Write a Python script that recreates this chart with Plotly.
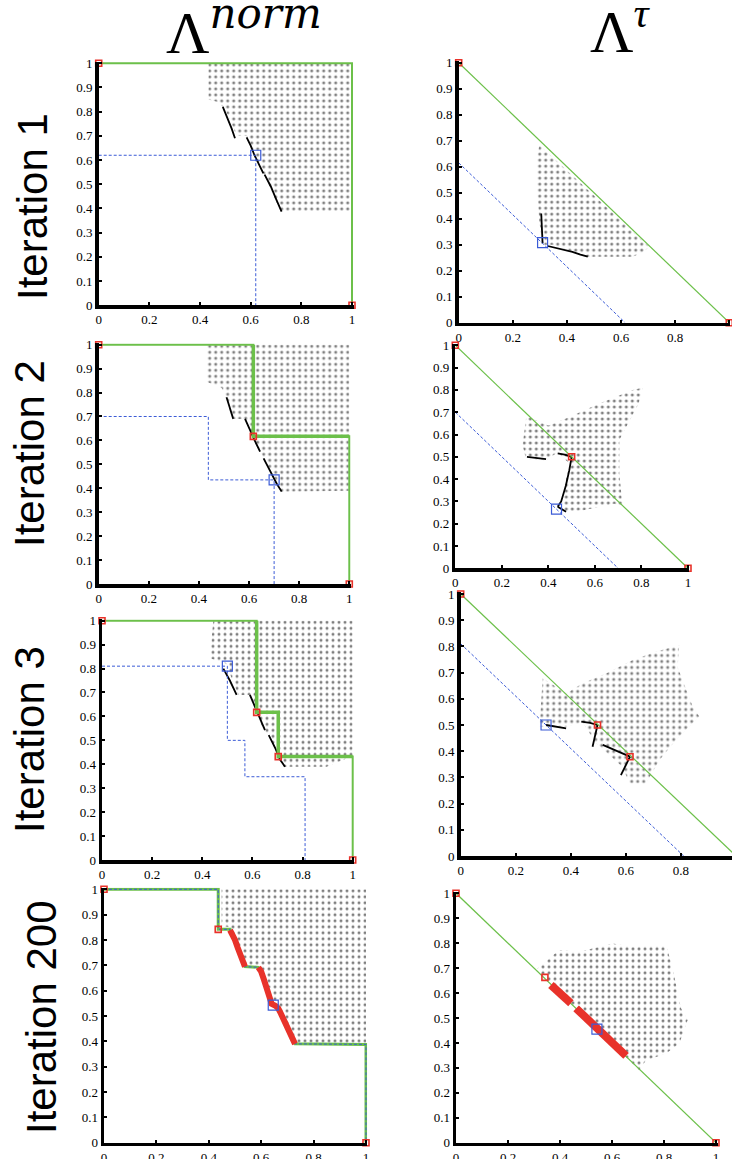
import plotly.graph_objects as go

W, H = 732, 1159

# ---------------- tick labels / texts ----------------
X_TICKS = [0, 0.2, 0.4, 0.6, 0.8, 1]
X_TICKTEXT = ["0", "0.2", "0.4", "0.6", "0.8", "1"]
Y_TICKS = [0, 0.1, 0.2, 0.3, 0.4, 0.5, 0.6, 0.7, 0.8, 0.9, 1]
Y_TICKTEXT = ["0", "0.1", "0.2", "0.3", "0.4", "0.5", "0.6", "0.7", "0.8", "0.9", "1"]
ROW_LABELS = ["Iteration 1", "Iteration 2", "Iteration 3", "Iteration 200"]
COL_TITLES = ["Λ<sup><i><span style='font-family:DejaVu Serif'>norm</span></i></sup>",
              "Λ<sup><i>τ</i></sup>"]

# ---------------- Panel 1: Iteration 1, Λ^norm ----------------
p1_front_x = [0, 1, 1]
p1_front_y = [1, 1, 0]
p1_ref_x = [0, 1]
p1_ref_y = [1, 0]
p1_dash_x = [0, 0.62, 0.62]
p1_dash_y = [0.62, 0.62, 0]
p1_sel_x, p1_sel_y = [0.62], [0.62]
p1_cloud_x = [0.433, 1, 1, 0.72, 0.69, 0.66, 0.64, 0.624, 0.60, 0.584, 0.545, 0.52, 0.50, 0.47, 0.433]
p1_cloud_y = [1, 1, 0.39, 0.39, 0.45, 0.53, 0.56, 0.60, 0.66, 0.70, 0.70, 0.76, 0.81, 0.84, 0.85]
p1_curves = [
    ([0.49, 0.51, 0.525, 0.538], [0.82, 0.77, 0.73, 0.69]),
    ([0.584, 0.60, 0.615, 0.63, 0.65], [0.694, 0.66, 0.62, 0.585, 0.545]),
    ([0.655, 0.68, 0.70, 0.722], [0.54, 0.49, 0.44, 0.387]),
]

# ---------------- Panel 2: Iteration 1, Λ^τ ----------------
p2_front_x = [0, 1]
p2_front_y = [1, 0]
p2_ref_x = [0, 1]
p2_ref_y = [1, 0]
p2_dash_x = [0, 0.615]
p2_dash_y = [0.615, 0]
p2_sel_x, p2_sel_y = [0.31], [0.308]
p2_cloud_x = [0.298, 0.704, 0.68, 0.643, 0.477, 0.40, 0.347, 0.31, 0.298, 0.286, 0.29]
p2_cloud_y = [0.683, 0.292, 0.27, 0.254, 0.254, 0.28, 0.30, 0.30, 0.39, 0.56, 0.64]
p2_curves = [
    ([0.305, 0.31], [0.42, 0.305]),
    ([0.329, 0.37, 0.42, 0.45, 0.477], [0.295, 0.285, 0.272, 0.262, 0.254]),
]

# ---------------- Panel 3: Iteration 2, Λ^norm ----------------
p3_front_x = [0, 0.617, 0.617, 1, 1]
p3_front_y = [1, 1, 0.617, 0.617, 0]
p3_new_x = [0.617, 0.617, 1]
p3_new_y = [1, 0.617, 0.617]
p3_ref_x = [0, 0.617, 1]
p3_ref_y = [1, 0.617, 0]
p3_dash_x = [0, 0.4375, 0.4375, 0.70, 0.70]
p3_dash_y = [0.70, 0.70, 0.435, 0.435, 0]
p3_sel_x, p3_sel_y = [0.70], [0.435]
p3_cloud_x = [0.43, 1, 1, 0.73, 0.70, 0.664, 0.644, 0.62, 0.60, 0.584, 0.54, 0.52, 0.49, 0.43]
p3_cloud_y = [1, 1, 0.39, 0.386, 0.45, 0.518, 0.553, 0.61, 0.66, 0.69, 0.69, 0.76, 0.82, 0.845]
p3_curves = [
    ([0.51, 0.524, 0.537], [0.78, 0.73, 0.69]),
    ([0.584, 0.60, 0.62, 0.644], [0.69, 0.65, 0.605, 0.553]),
    ([0.658, 0.69, 0.71, 0.73], [0.525, 0.46, 0.42, 0.386]),
]

# ---------------- Panel 4: Iteration 2, Λ^τ ----------------
p4_front_x = [0, 1]
p4_front_y = [1, 0]
p4_ref_x = [0, 0.5, 1]
p4_ref_y = [1, 0.5, 0]
p4_dash_x = [0, 0.70]
p4_dash_y = [0.70, 0]
p4_sel_x, p4_sel_y = [0.435], [0.265]
p4_cloud_x = [0.289, 0.304, 0.318, 0.40, 0.476, 0.619, 0.762, 0.805, 0.788, 0.705, 0.705, 0.719,
              0.683, 0.55, 0.476, 0.454, 0.476, 0.49, 0.44, 0.39, 0.304]
p4_cloud_y = [0.552, 0.672, 0.676, 0.64, 0.672, 0.739, 0.799, 0.81, 0.739, 0.575, 0.425, 0.276,
              0.29, 0.26, 0.254, 0.254, 0.40, 0.47, 0.52, 0.485, 0.49]
p4_curves = [
    ([0.308, 0.35, 0.39], [0.50, 0.495, 0.49]),
    ([0.44, 0.47, 0.50], [0.515, 0.51, 0.50]),
    ([0.50, 0.49, 0.475, 0.455, 0.44], [0.50, 0.44, 0.37, 0.30, 0.276]),
    ([0.44, 0.476], [0.276, 0.254]),
]

# ---------------- Panel 5: Iteration 3, Λ^norm ----------------
p5_front_x = [0, 0.617, 0.617, 0.703, 0.703, 1, 1]
p5_front_y = [1, 1, 0.617, 0.617, 0.432, 0.432, 0]
p5_new_x = [0.617, 0.617, 0.703, 0.703, 1]
p5_new_y = [1, 0.617, 0.617, 0.432, 0.432]
p5_ref_x = [0, 0.617, 0.703, 1]
p5_ref_y = [1, 0.617, 0.432, 0]
p5_dash_x = [0, 0.50, 0.50, 0.57, 0.57, 0.81, 0.81]
p5_dash_y = [0.81, 0.81, 0.50, 0.50, 0.348, 0.348, 0]
p5_sel_x, p5_sel_y = [0.50], [0.81]
p5_cloud_x = [0.444, 1, 1, 0.99, 0.896, 0.723, 0.69, 0.67, 0.644, 0.62, 0.59, 0.544, 0.52, 0.497, 0.43]
p5_cloud_y = [1, 1, 0.43, 0.43, 0.39, 0.39, 0.46, 0.515, 0.543, 0.61, 0.69, 0.69, 0.75, 0.82, 0.843]
p5_curves = [
    ([0.484, 0.51, 0.537], [0.80, 0.75, 0.69]),
    ([0.59, 0.61, 0.63, 0.65], [0.69, 0.64, 0.59, 0.543]),
    ([0.665, 0.69, 0.71, 0.73], [0.522, 0.47, 0.42, 0.39]),
]

# ---------------- Panel 6: Iteration 3, Λ^τ ----------------
p6_front_x = [0, 1]
p6_front_y = [1, 0]
p6_ref_x = [0, 0.497, 0.615]
p6_ref_y = [1, 0.50, 0.379]
p6_dash_x = [0, 0.81]
p6_dash_y = [0.81, 0]
p6_sel_x, p6_sel_y = [0.31], [0.50]
p6_cloud_x = [0.286, 0.298, 0.383, 0.443, 0.528, 0.625, 0.709, 0.794, 0.788, 0.843, 0.867, 0.782,
              0.722, 0.673, 0.613, 0.588, 0.492, 0.443, 0.383]
p6_cloud_y = [0.494, 0.678, 0.62, 0.659, 0.697, 0.748, 0.78, 0.805, 0.72, 0.57, 0.532, 0.443,
              0.366, 0.277, 0.277, 0.34, 0.43, 0.51, 0.494]
p6_curves = [
    ([0.31, 0.35, 0.383], [0.50, 0.492, 0.487]),
    ([0.438, 0.47, 0.497], [0.513, 0.508, 0.50]),
    ([0.497, 0.479], [0.50, 0.417]),
    ([0.516, 0.56, 0.615], [0.424, 0.405, 0.379]),
    ([0.615, 0.582], [0.379, 0.309]),
]

# ---------------- Panel 7: Iteration 200, Λ^norm ----------------
p7_redA_x = [0.481, 0.49, 0.50, 0.51, 0.52, 0.53, 0.538]
p7_redA_y = [0.839, 0.825, 0.80, 0.77, 0.745, 0.715, 0.695]
p7_redB_x = [0.589, 0.60, 0.61, 0.62, 0.63, 0.64, 0.655, 0.665, 0.675, 0.69, 0.705, 0.72, 0.729]
p7_redB_y = [0.692, 0.675, 0.645, 0.61, 0.575, 0.548, 0.54, 0.53, 0.51, 0.475, 0.44, 0.405, 0.39]
p7_front_x = [0, 0.436, 0.436, 0.481] + p7_redA_x + [0.589] + p7_redB_x + [1, 1]
p7_front_y = [1, 1, 0.842, 0.842] + p7_redA_y + [0.692] + p7_redB_y + [0.388, 0]
p7_ref_x = [0, 0.436, 1]
p7_ref_y = [1, 0.842, 0]
p7_sel_x, p7_sel_y = [0.646], [0.543]
p7_cloud_x = [0.449, 1, 1, 0.735, 0.72, 0.70, 0.68, 0.66, 0.645, 0.625, 0.605, 0.59, 0.545, 0.53,
              0.51, 0.495, 0.485, 0.449]
p7_cloud_y = [1, 1, 0.39, 0.39, 0.42, 0.47, 0.51, 0.545, 0.57, 0.63, 0.68, 0.70, 0.70, 0.73,
              0.78, 0.82, 0.85, 0.855]

# ---------------- Panel 8: Iteration 200, Λ^τ ----------------
p8_front_x = [0, 1]
p8_front_y = [1, 0]
p8_ref_x = [0, 0.342, 1]
p8_ref_y = [1, 0.663, 0]
p8_red_segs = [
    ([0.365, 0.442], [0.632, 0.559]),
    ([0.462, 0.654], [0.539, 0.348]),
]
p8_sel_x, p8_sel_y = [0.542], [0.455]
p8_cloud_x = [0.308, 0.397, 0.474, 0.603, 0.679, 0.808, 0.833, 0.865, 0.891, 0.859, 0.808, 0.73,
              0.705, 0.667]
p8_cloud_y = [0.693, 0.773, 0.766, 0.799, 0.786, 0.793, 0.70, 0.54, 0.492, 0.398, 0.358, 0.33,
              0.29, 0.33]

# ---------------- styling ----------------
GREEN = "#6cc04a"
RED = "#e8322a"
BLUE = "#3b5bd6"

# pixel geometry: (px of x=0, px of x=1, py of y=1, py of y=0, x range hi)
GEOM = {
    1: (98.7, 352.0, 63.3, 305.3, 1.006),
    2: (458.7, 729.3, 62.7, 322.7, 1.004),
    3: (98.7, 349.3, 344.7, 584.0, 1.006),
    4: (455.3, 688.0, 345.3, 568.3, 1.006),
    5: (102.0, 352.7, 620.7, 860.0, 1.006),
    6: (460.7, 736.0, 594.0, 856.0, 0.9855),
    7: (104.0, 366.0, 889.3, 1142.7, 1.004),
    8: (456.0, 716.0, 893.3, 1142.7, 1.006),
}
Y_HI = 1.006

fig = go.Figure()


def ax(i, kind):
    return kind if i == 1 else f"{kind}{i}"


def add(i, tr):
    tr.update(xaxis=ax(i, "x"), yaxis=ax(i, "y"), showlegend=False, hoverinfo="skip")
    fig.add_trace(tr)


def cloud(i, xs, ys):
    add(i, go.Scatter(x=xs + xs[:1], y=ys + ys[:1], mode="lines", fill="toself",
                      line=dict(width=0, color="rgba(0,0,0,0)"), fillcolor="rgba(0,0,0,0)",
                      fillpattern=dict(shape=".", size=6, solidity=0.2, fgcolor="black",
                                       bgcolor="rgba(0,0,0,0)", fillmode="overlay")))


def line(i, xs, ys, color, width, dash=None):
    add(i, go.Scatter(x=xs, y=ys, mode="lines",
                      line=dict(color=color, width=width, dash=dash)))


def curves(i, cs):
    for cx, cy in cs:
        line(i, cx, cy, "black", 1.8)


def refs(i, xs, ys):
    add(i, go.Scatter(x=xs, y=ys, mode="markers", cliponaxis=False,
                      marker=dict(symbol="square-open", size=6, color=RED, line=dict(width=1.6))))


def sel(i, xs, ys):
    add(i, go.Scatter(x=xs, y=ys, mode="markers", cliponaxis=False,
                      marker=dict(symbol="square-open", size=10, color=BLUE, line=dict(width=1.2))))


DASH = "3px,2px"

# Panel 1
cloud(1, p1_cloud_x, p1_cloud_y)
curves(1, p1_curves)
line(1, p1_dash_x, p1_dash_y, BLUE, 1, DASH)
line(1, p1_front_x, p1_front_y, GREEN, 2)
sel(1, p1_sel_x, p1_sel_y)
refs(1, p1_ref_x, p1_ref_y)

# Panel 2
cloud(2, p2_cloud_x, p2_cloud_y)
curves(2, p2_curves)
line(2, p2_dash_x, p2_dash_y, BLUE, 1, DASH)
line(2, p2_front_x, p2_front_y, GREEN, 1.2)
sel(2, p2_sel_x, p2_sel_y)
refs(2, p2_ref_x, p2_ref_y)

# Panel 3
cloud(3, p3_cloud_x, p3_cloud_y)
curves(3, p3_curves)
line(3, p3_dash_x, p3_dash_y, BLUE, 1, DASH)
line(3, p3_front_x, p3_front_y, GREEN, 2)
line(3, p3_new_x, p3_new_y, GREEN, 3.5)
sel(3, p3_sel_x, p3_sel_y)
refs(3, p3_ref_x, p3_ref_y)

# Panel 4
cloud(4, p4_cloud_x, p4_cloud_y)
curves(4, p4_curves)
line(4, p4_dash_x, p4_dash_y, BLUE, 1, DASH)
line(4, p4_front_x, p4_front_y, GREEN, 1.2)
sel(4, p4_sel_x, p4_sel_y)
refs(4, p4_ref_x, p4_ref_y)

# Panel 5
cloud(5, p5_cloud_x, p5_cloud_y)
curves(5, p5_curves)
line(5, p5_dash_x, p5_dash_y, BLUE, 1, DASH)
line(5, p5_front_x, p5_front_y, GREEN, 2)
line(5, p5_new_x, p5_new_y, GREEN, 3.5)
sel(5, p5_sel_x, p5_sel_y)
refs(5, p5_ref_x, p5_ref_y)

# Panel 6
cloud(6, p6_cloud_x, p6_cloud_y)
curves(6, p6_curves)
line(6, p6_dash_x, p6_dash_y, BLUE, 1, DASH)
line(6, p6_front_x, p6_front_y, GREEN, 1.2)
sel(6, p6_sel_x, p6_sel_y)
refs(6, p6_ref_x, p6_ref_y)

# Panel 7
cloud(7, p7_cloud_x, p7_cloud_y)
line(7, p7_front_x, p7_front_y, GREEN, 3)
line(7, p7_front_x, p7_front_y, BLUE, 1, DASH)
line(7, p7_redA_x, p7_redA_y, RED, 6)
line(7, p7_redB_x, p7_redB_y, RED, 6)
sel(7, p7_sel_x, p7_sel_y)
refs(7, p7_ref_x, p7_ref_y)

# Panel 8
cloud(8, p8_cloud_x, p8_cloud_y)
line(8, p8_front_x, p8_front_y, GREEN, 1.2)
for sx, sy in p8_red_segs:
    line(8, sx, sy, RED, 8)
sel(8, p8_sel_x, p8_sel_y)
refs(8, p8_ref_x, p8_ref_y)

# ---------------- axes ----------------
TICKFONT = dict(family="Liberation Serif, Times New Roman, serif", size=13, color="black")
layout_axes = {}
for i, (x0, x1, y1, y0, xhi) in GEOM.items():
    sx = x1 - x0
    sy = y0 - y1
    xd = [x0 / W, min(1.0, (x0 + sx * xhi) / W)]
    yd = [1 - y0 / H, 1 - (y0 - sy * Y_HI) / H]
    xt = [t for t in X_TICKS if t <= xhi + 1e-9]
    xtt = [X_TICKTEXT[k] for k, t in enumerate(X_TICKS) if t <= xhi + 1e-9]
    common = dict(showgrid=False, zeroline=False, automargin=False,
                  showline=True, linecolor="black", linewidth=3.5, mirror=False,
                  ticks="inside", ticklen=3, tickwidth=2, tickcolor="black",
                  tickfont=TICKFONT, ticklabelstandoff=0, fixedrange=True)
    layout_axes["xaxis" if i == 1 else f"xaxis{i}"] = dict(
        domain=xd, range=[0, xhi], anchor=ax(i, "y"), tickvals=xt, ticktext=xtt, **common)
    layout_axes["yaxis" if i == 1 else f"yaxis{i}"] = dict(
        domain=yd, range=[0, Y_HI], anchor=ax(i, "x"), tickvals=Y_TICKS, ticktext=Y_TICKTEXT,
        **common)

annotations = []
# column titles
for txt, xc in zip(COL_TITLES, [244, 620]):
    annotations.append(dict(text=txt, x=xc / W, y=1 - 27 / H, xref="paper", yref="paper",
                            showarrow=False, xanchor="center", yanchor="middle",
                            font=dict(family="Liberation Serif, Times New Roman, serif",
                                      size=60, color="black")))
# row labels
for txt, xc, yc in zip(ROW_LABELS, [32, 29, 29, 41], [207, 454, 740, 1017]):
    annotations.append(dict(text=txt, x=xc / W, y=1 - yc / H, xref="paper", yref="paper",
                            showarrow=False, xanchor="center", yanchor="middle", textangle=-90,
                            font=dict(family="Liberation Sans", size=42, color="black")))

fig.update_layout(width=W, height=H, margin=dict(l=0, r=0, t=0, b=0, autoexpand=False),
                  paper_bgcolor="white", plot_bgcolor="white", showlegend=False,
                  annotations=annotations, **layout_axes)

fig.write_html("out.html", config={"displayModeBar": False, "staticPlot": True},
               post_script="document.body.style.margin='0px';")
